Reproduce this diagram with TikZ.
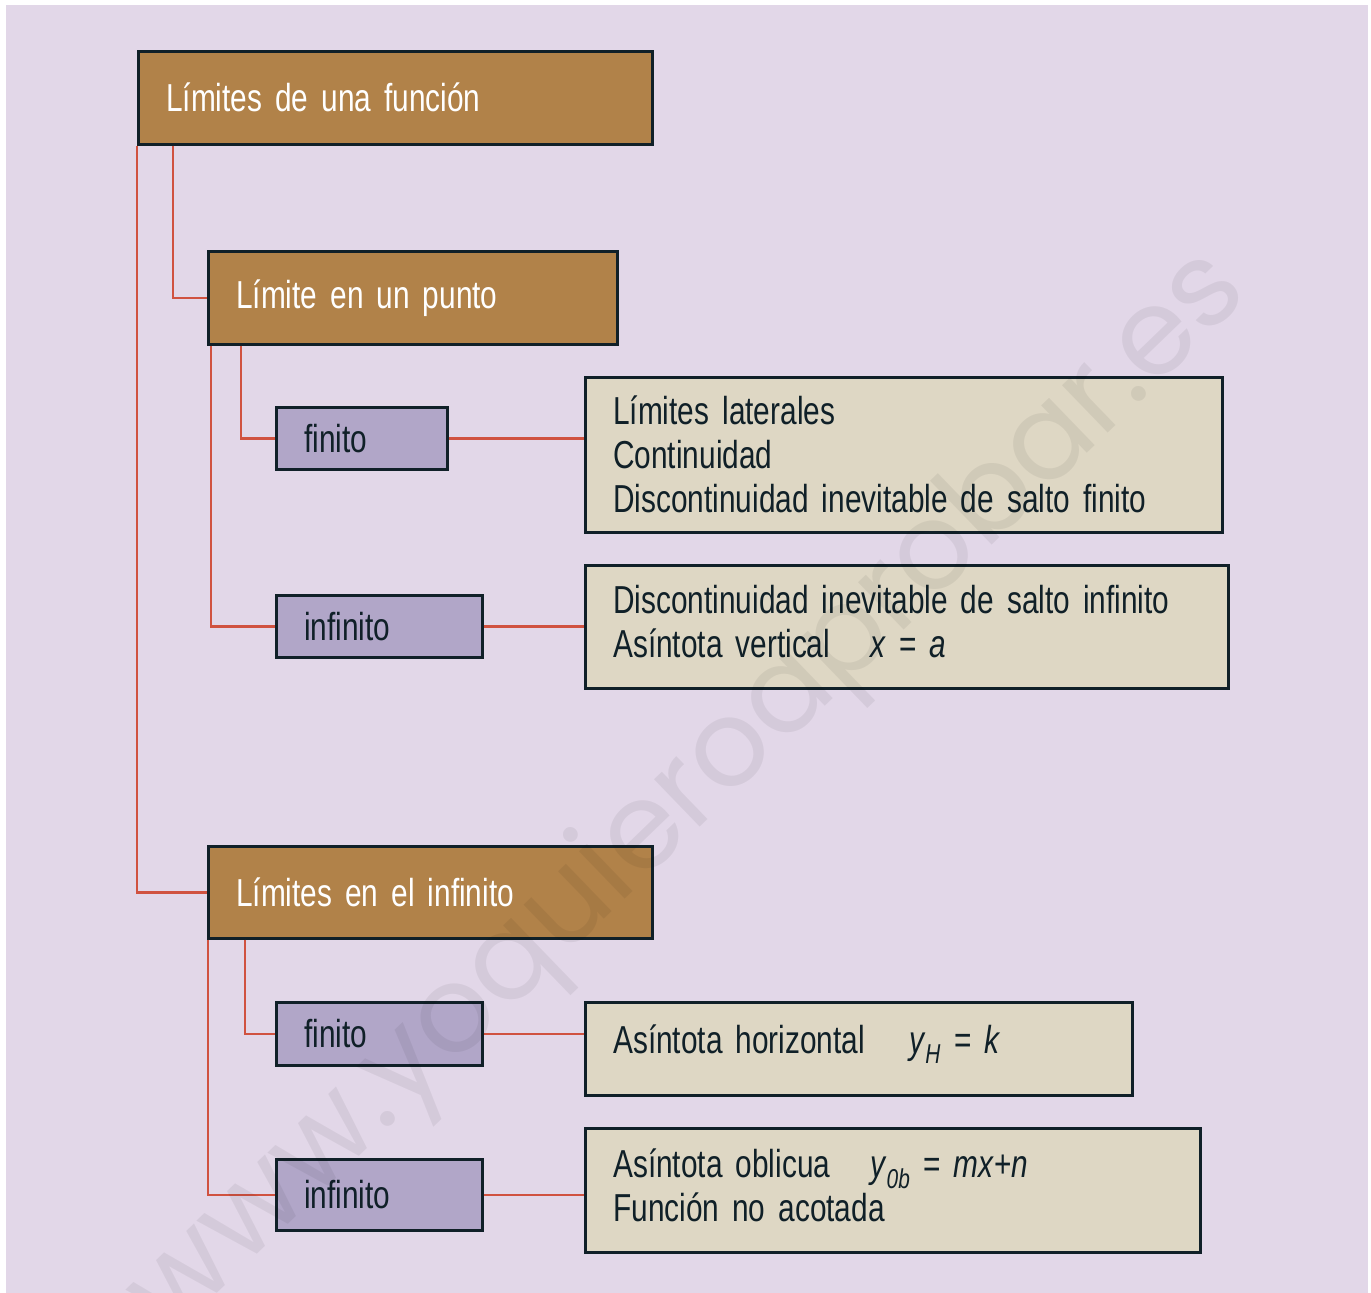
\documentclass[tikz,border=0pt]{standalone}
\usepackage{fontspec}
\setmainfont{Liberation Sans}[FakeStretch=0.765]
\newfontfamily\wmfont{Poppins}
\usepackage{tikz}

\definecolor{fondo}{RGB}{226,215,232}
\definecolor{marron}{RGB}{177,130,73}
\definecolor{lila}{RGB}{177,166,200}
\definecolor{crema}{RGB}{222,215,196}
\definecolor{borde}{RGB}{16,32,40}
\definecolor{rojo}{RGB}{208,82,64}

\tikzset{
  caja/.style={draw=borde,line width=2.5pt,anchor=north west,align=left,
    inner xsep=28pt,inner ysep=0pt,
    font=\fontsize{39}{44}\selectfont},
  titulo/.style={caja,fill=marron,text=white},
  tipo/.style={caja,fill=lila,text=borde},
  info/.style={caja,fill=crema,text=borde},
  enlace/.style={draw=rojo,line width=2.5pt},
}

\begin{document}
\begin{tikzpicture}[x=1pt,y=-1pt]
  \useasboundingbox[fill=white] (0,0) rectangle (1371,1293);
  \fill[fondo] (6,5) rectangle (1368,1293);

  % ================= cajas =================
  \node[titulo,text width=458pt,minimum height=93pt] (lim) at (137,50)
    {Límites de una función};
  \node[titulo,text width=353pt,minimum height=93pt] (punto) at (207,250)
    {Límite en un punto};
  \node[tipo,text width=115pt,minimum height=62pt] (finA) at (275,406) {finito};
  \node[tipo,text width=150pt,minimum height=62pt] (infA) at (275,594) {infinito};
  \node[info,text width=581pt,minimum height=155pt] (infoA) at (584,376)
    {Límites laterales\\Continuidad\\Discontinuidad inevitable de salto finito};
  \node[info,text width=587pt,minimum height=123pt,text height=30pt,text depth=57pt]
    (infoB) at (584,564)
    {Discontinuidad inevitable de salto infinito\\
     Asíntota vertical\hspace{40pt}\textit{x} = \textit{a}};

  \node[titulo,text width=388pt,minimum height=92pt] (infin) at (207,845)
    {Límites en el infinito};
  \node[tipo,text width=150pt,minimum height=63pt] (finB) at (275,1001) {finito};
  \node[tipo,text width=150pt,minimum height=71pt] (infB) at (275,1158) {infinito};
  \node[info,text width=491pt,minimum height=93pt,text height=30pt,text depth=21pt]
    (infoC) at (584,1001)
    {Asíntota horizontal\hspace{44pt}\textit{y}\textsubscript{\textit{H}} = \textit{k}};
  \node[info,text width=559pt,minimum height=124pt,text height=30pt,text depth=56pt]
    (infoD) at (584,1127)
    {Asíntota oblicua\hspace{40pt}\textit{y}\textsubscript{\textit{0b}} = \textit{mx}+\textit{n}\\
     Función no acotada};

  % ================= enlaces =================
  \draw[enlace] (lim.south west) |- (infin.west);
  \draw[enlace] ([xshift=36pt]lim.south west) |- (punto.west);
  \draw[enlace] ([xshift=4pt]punto.south west) |- (infA.west);
  \draw[enlace] ([xshift=34pt]punto.south west) |- (finA.west);
  \draw[enlace] ([xshift=1pt]infin.south west) |- (infB.west);
  \draw[enlace] ([xshift=38pt]infin.south west) |- (finB.west);
  \draw[enlace] (finA.east) -- (finA.east -| infoA.west);
  \draw[enlace] (infA.east) -- (infA.east -| infoB.west);
  \draw[enlace] (finB.east) -- (finB.east -| infoC.west);
  \draw[enlace] (infB.east) -- (infB.east -| infoD.west);

  % marca de agua
  \node[rotate=44,text=black,text opacity=0.06,font=\wmfont\fontsize{120}{120}\selectfont]
    (marca) at (690,795) {www.yoquieroaprobar.es};
\end{tikzpicture}
\end{document}
